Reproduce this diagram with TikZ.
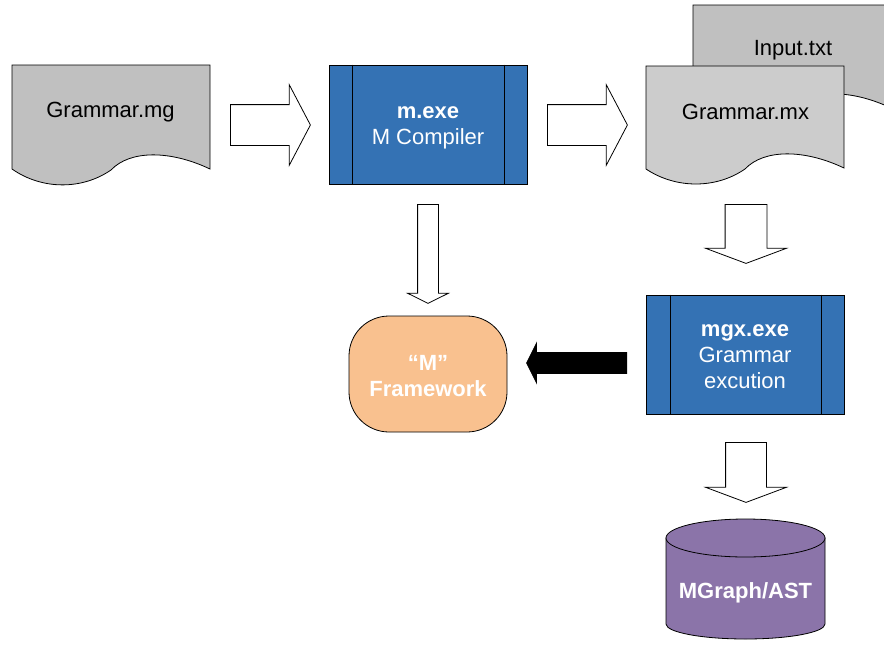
\documentclass[tikz,border=0pt]{standalone}
\usepackage{fontspec}
\setmainfont{Liberation Sans}
\usepackage{xcolor}
\usetikzlibrary{shapes,arrows,positioning,calc}

\definecolor{exeblue}{HTML}{3472B4}
\definecolor{docgray}{HTML}{C0C0C0}
\definecolor{docgraylt}{HTML}{CCCCCC}
\definecolor{fworange}{HTML}{F9C18F}
\definecolor{astpurple}{HTML}{8B74A9}

\tikzset{
  lbl/.style={font=\fontsize{22}{26}\selectfont, align=center},
  lblbold/.style={font=\fontsize{22}{26}\selectfont\bfseries, align=center},
  exebox/.style={draw=black, fill=exeblue, minimum width=198pt, minimum height=119pt},
  blkarrow/.style={single arrow, draw=black, fill=white, inner xsep=0pt, anchor=tail}
}

\begin{document}
\begin{tikzpicture}[x=1pt, y=-1pt, line width=0.8pt]
    \useasboundingbox (0,0) rectangle (884,648);

    % Documents
    \draw[fill=docgray] (12,65) -- (210,65) -- (210,169) .. controls (170,150) and (130,150) .. (111,170)
        .. controls (82,190) and (42,190) .. (12,169) -- cycle;
    \draw[fill=docgray] (693,5) -- (891,5) -- (891,108) .. controls (851,89) and (811,89) .. (792,109)
        .. controls (763,129) and (723,129) .. (693,108) -- cycle;
    \draw[fill=docgraylt] (646,66) -- (844,66) -- (844,168) .. controls (804,149) and (764,149) .. (745,169)
        .. controls (716,189) and (676,189) .. (646,169) -- cycle;
    \node[lbl] (mg) at (110.5,112) {Grammar.mg};
    \node[lbl] (input) at (793,50) {Input.txt};
    \node[lbl] (mx) at (745.5,112) {Grammar.mx};

    % Executables
    \node[exebox] (mexe) at (428,124.5) {};
    \draw ($(mexe.north west)+(24,0)$) -- ($(mexe.south west)+(24,0)$);
    \draw ($(mexe.north east)+(-23,0)$) -- ($(mexe.south east)+(-23,0)$);
    \node[lbl, text=white] (mexetext) at ($(mexe)+(0,3)$) {{\bfseries m.exe}\\M Compiler};
    \node[exebox] (mgx) at (745,354.5) {};
    \draw ($(mgx.north west)+(25,0)$) -- ($(mgx.south west)+(25,0)$);
    \draw ($(mgx.north east)+(-23,0)$) -- ($(mgx.south east)+(-23,0)$);
    \node[lbl, text=white] (mgxtext) at ($(mgx)+(0,2)$) {{\bfseries mgx.exe}\\Grammar\\excution};

    % Framework
    \node[draw=black, fill=fworange, rounded corners=40pt, minimum width=158pt, minimum height=116pt]
        (fw) at (428,374) {};
    \node[lblbold, text=white] (fwtext) at ($(fw)+(0,2)$) {“M”\\Framework};

    % Output store
    \draw[fill=astpurple] (666,538) -- (666,624) arc[start angle=180, end angle=0, x radius=79.5, y radius=15]
        -- (825,538) -- cycle;
    \draw[fill=astpurple] (745.5,538) ellipse [x radius=79.5, y radius=19];
    \node[lblbold, text=white] (ast) at (745.5,593) {MGraph/AST};

    % Block arrows
    \node[blkarrow, minimum height=80pt, inner ysep=20pt, single arrow head extend=20pt,
        single arrow tip angle=124.6] (ar1) at (230,125) {};
    \node[blkarrow, minimum height=80pt, inner ysep=20pt, single arrow head extend=20pt,
        single arrow tip angle=124.6] (ar2) at (547,125) {};
    \node[blkarrow, rotate=-90, minimum height=99pt, inner ysep=10pt, single arrow head extend=10pt,
        single arrow tip angle=127] (ar3) at (428,204) {};
    \node[blkarrow, rotate=-90, minimum height=59pt, inner ysep=20.5pt, single arrow head extend=19.5pt,
        single arrow tip angle=139] (ar4) at (746,204) {};
    \node[blkarrow, rotate=-90, minimum height=60pt, inner ysep=20pt, single arrow head extend=20pt,
        single arrow tip angle=139] (ar5) at (746,442) {};
    \node[blkarrow, rotate=180, fill=black, minimum height=100pt, inner ysep=10pt, single arrow head extend=9.5pt,
        single arrow tip angle=127] (ar6) at (627,363) {};
\end{tikzpicture}
\end{document}
